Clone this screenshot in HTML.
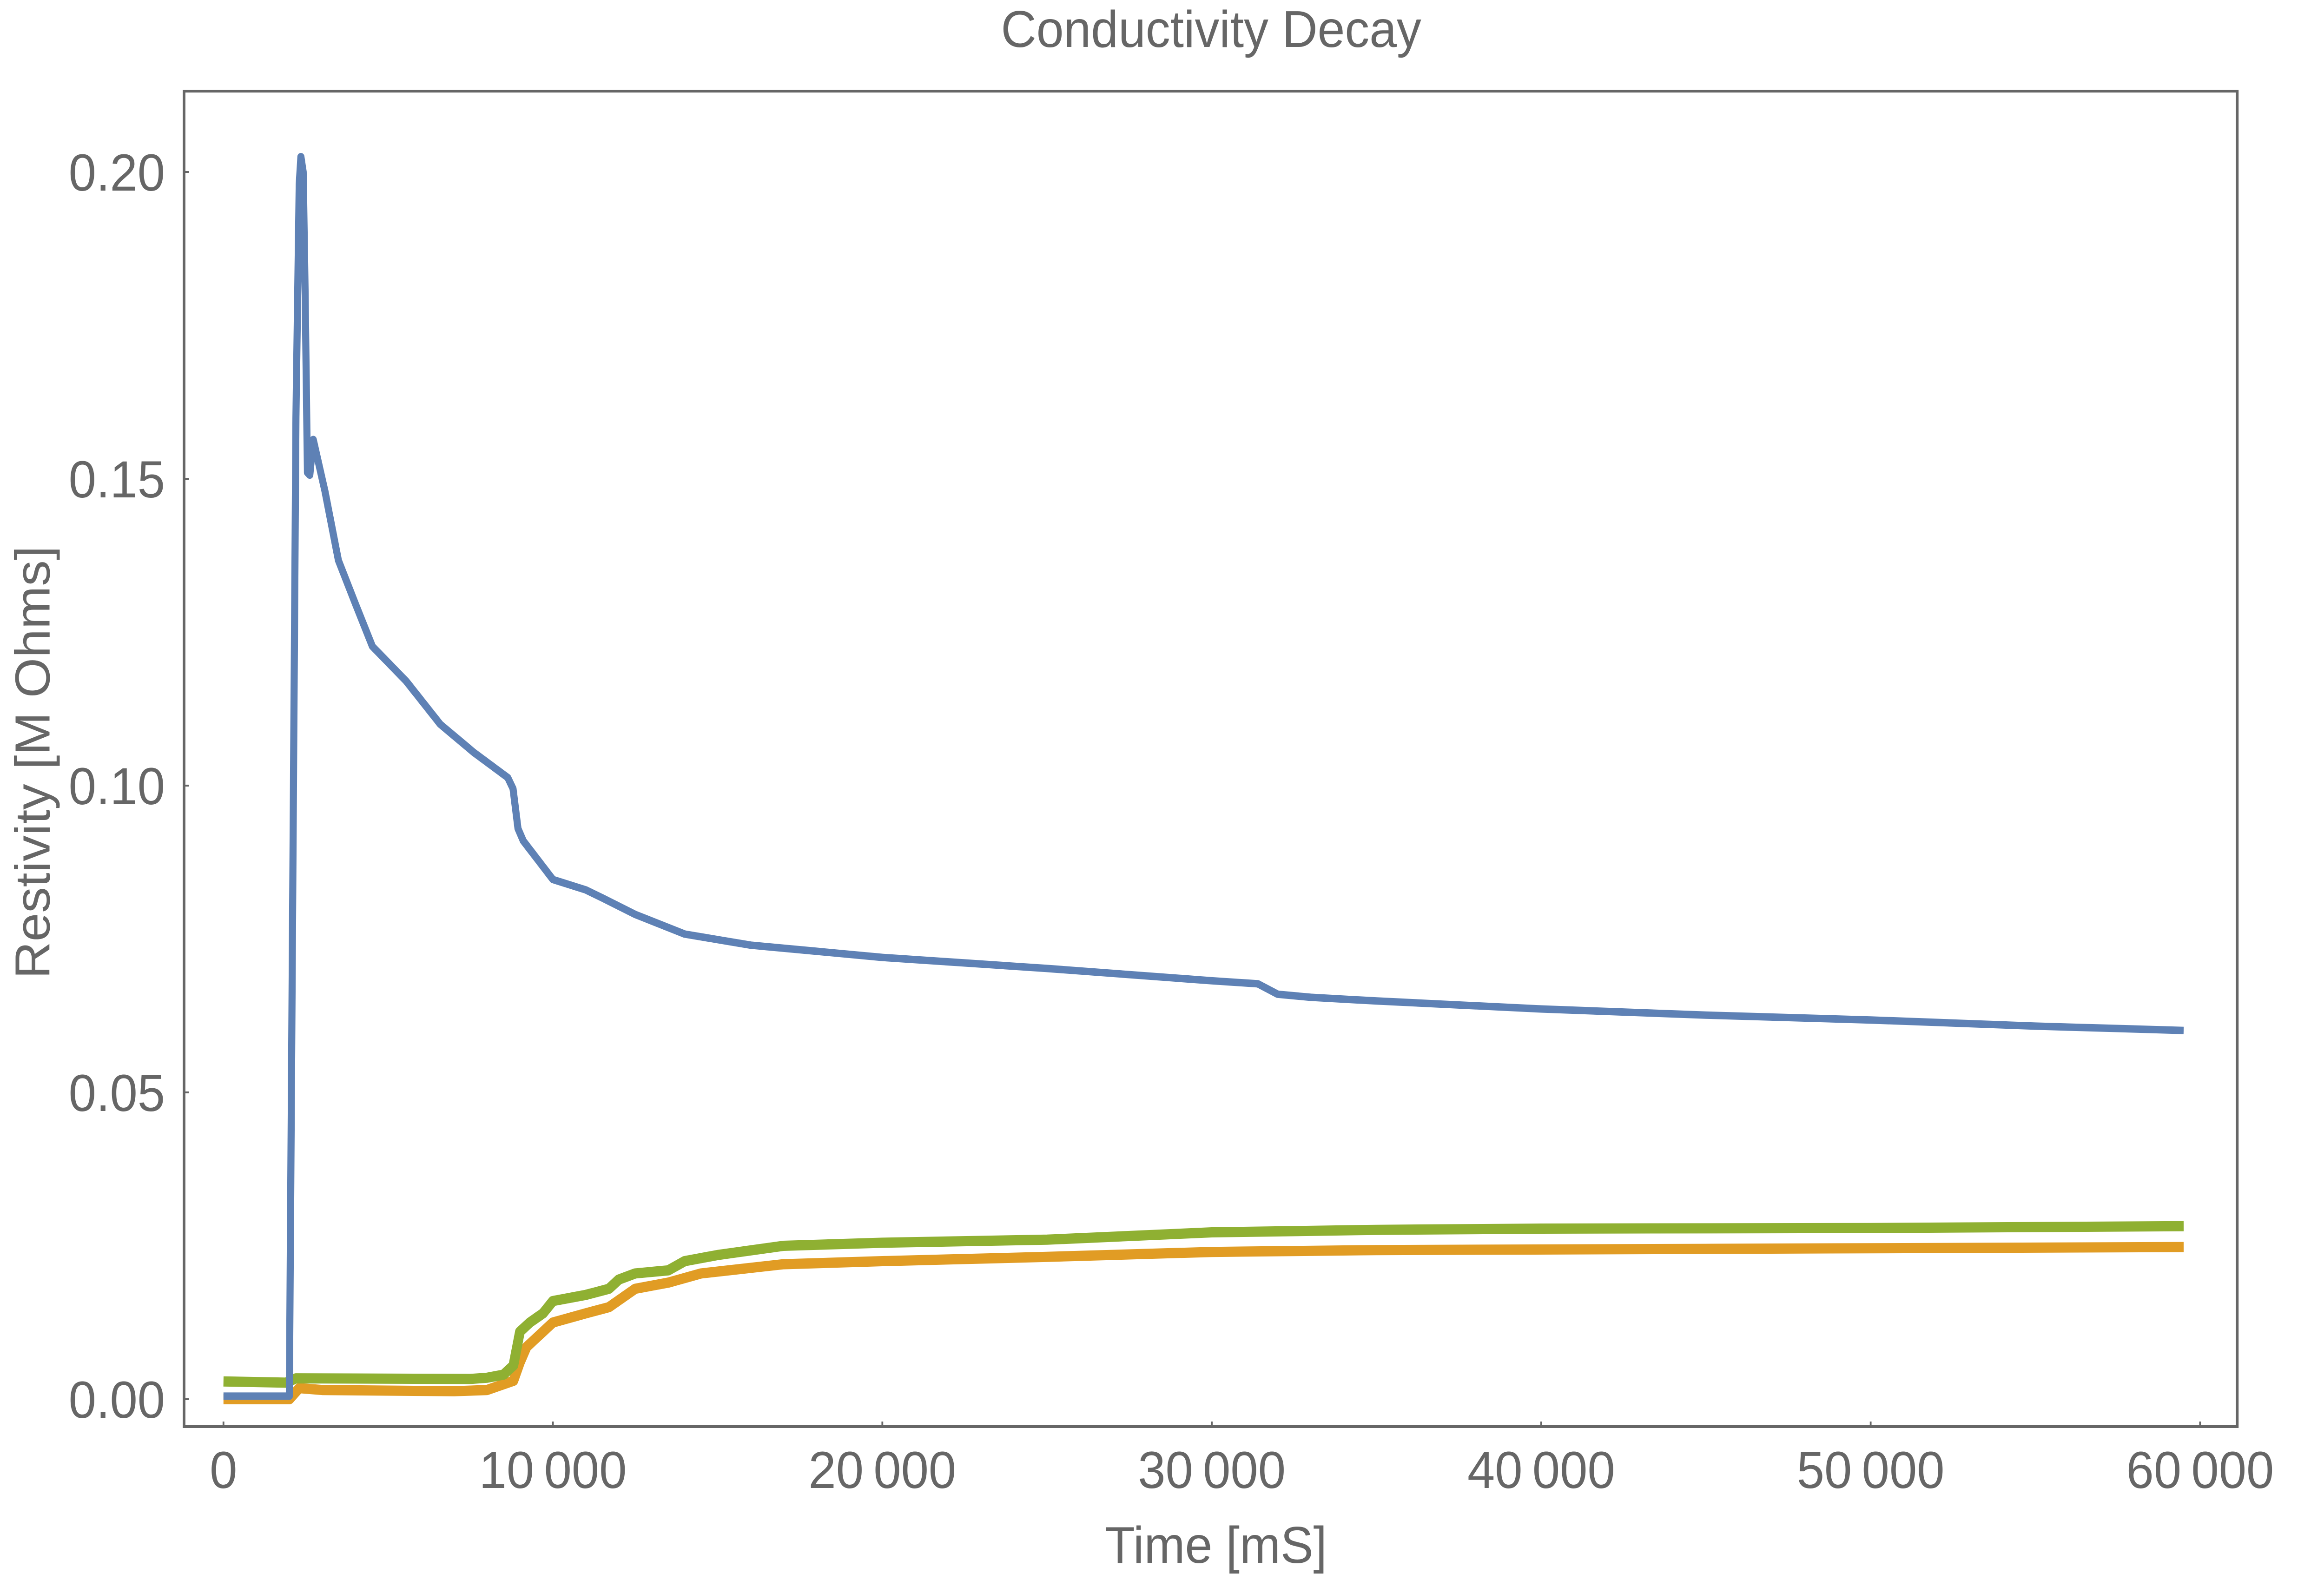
<!DOCTYPE html>
<html><head><meta charset="utf-8"><style>
html,body{margin:0;padding:0;background:#fff;overflow:hidden;width:100%;height:100%;}
svg{display:block;width:100vw;height:100vh;}
text{font-family:"Liberation Sans",Arial,sans-serif;fill:#666;}
</style></head><body>
<svg id="chart" viewBox="0 0 5252 3386" preserveAspectRatio="none" xmlns="http://www.w3.org/2000/svg">
<rect x="0" y="0" width="5252" height="3386" fill="#fff"/>
<text x="2737" y="101" font-size="111" text-anchor="middle">Conductivity Decay</text>
<text x="2748" y="3362" font-size="111" text-anchor="middle">Time [mS]</text>
<text transform="translate(112,1640) rotate(-90)" font-size="111" text-anchor="middle">Restivity [M Ohms]</text>
<g id="ticks"></g>
<g id="series"></g>
<rect x="416" y="196" width="4640" height="2873" fill="none" stroke="#666" stroke-width="6"/>
</svg>
<script>
const xTicks = [0, 10000, 20000, 30000, 40000, 50000, 60000];
const xTickLabels = ["0", "10\u2009000", "20\u2009000", "30\u2009000", "40\u2009000", "50\u2009000", "60\u2009000"];
const yTicks = [0, 0.05, 0.10, 0.15, 0.20];
const yTickLabels = ["0.00", "0.05", "0.10", "0.15", "0.20"];

const blueT = [0, 1900, 2000, 2200, 2300, 2350, 2420, 2480, 2550, 2620, 2725, 3080, 3490, 4000, 4520, 5550, 6580, 7600, 8630, 8790, 8940, 9100, 10000, 11000, 11500, 12500, 14000, 16000, 18000, 20000, 25000, 30000, 31400, 32000, 33000, 35000, 40000, 45000, 50000, 55000, 59500];
const blueV = [0.0005, 0.0005, 0.0005, 0.16, 0.198, 0.2025, 0.2, 0.18, 0.151, 0.1506, 0.1564, 0.148, 0.1367, 0.1297, 0.1227, 0.117, 0.110, 0.1054, 0.1013, 0.0995, 0.093, 0.091, 0.0847, 0.083, 0.0817, 0.079, 0.0758, 0.074, 0.073, 0.072, 0.0702, 0.0682, 0.0677, 0.066, 0.0655, 0.0649, 0.0636, 0.0626, 0.0618, 0.0608, 0.0601];

const greenT = [0, 1900, 2200, 7500, 8000, 8500, 8800, 9000, 9300, 9700, 10000, 10500, 11000, 11700, 12000, 12500, 13500, 14000, 15000, 17000, 20000, 25000, 30000, 35000, 40000, 50000, 59500];
const greenV = [0.0029, 0.0027, 0.0034, 0.0033, 0.0035, 0.004, 0.0055, 0.011, 0.0125, 0.014, 0.016, 0.0165, 0.017, 0.018, 0.0195, 0.0205, 0.021, 0.0225, 0.0235, 0.025, 0.0255, 0.026, 0.0272, 0.0276, 0.0278, 0.0279, 0.0282];

const orangeT = [0, 2000, 2300, 3000, 7000, 8000, 8800, 9000, 9200, 9700, 10000, 11000, 11700, 12500, 13500, 14500, 17000, 20000, 25000, 30000, 35000, 45000, 59500];
const orangeV = [0.0, 0.0, 0.0018, 0.0015, 0.0013, 0.0015, 0.003, 0.006, 0.0085, 0.011, 0.0125, 0.014, 0.015, 0.018, 0.019, 0.0205, 0.022, 0.0225, 0.0232, 0.024, 0.0243, 0.0245, 0.0248];

const NS = "http://www.w3.org/2000/svg";
function xScale(t){ return 505 + (t/60000)*(4972-505); }
function yScale(v){ return 3010 - v*13200; }

const ticks = document.getElementById('ticks');
xTicks.forEach((t,i)=>{
  const tx = document.createElementNS(NS,'text');
  
  
  tx.setAttribute('x', xScale(t)); tx.setAttribute('y', 3201);
  tx.setAttribute('font-size', 112); tx.setAttribute('text-anchor','middle');
  tx.textContent = xTickLabels[i];
  ticks.appendChild(tx);
  const tm = document.createElementNS(NS,'line');
  
  
  tm.setAttribute('x1', xScale(t)); tm.setAttribute('x2', xScale(t));
  tm.setAttribute('y1', 3069); tm.setAttribute('y2', 3058);
  tm.setAttribute('stroke','#666'); tm.setAttribute('stroke-width',4);
  ticks.appendChild(tm);
});
yTicks.forEach((v,i)=>{
  const tx = document.createElementNS(NS,'text');
  
  
  tx.setAttribute('x', 373); tx.setAttribute('y', yScale(v)+40);
  tx.setAttribute('font-size', 112); tx.setAttribute('text-anchor','end');
  tx.textContent = yTickLabels[i];
  ticks.appendChild(tx);
  const tm = document.createElementNS(NS,'line');
  
  
  tm.setAttribute('x1', 416); tm.setAttribute('x2', 427);
  tm.setAttribute('y1', yScale(v)); tm.setAttribute('y2', yScale(v));
  tm.setAttribute('stroke','#666'); tm.setAttribute('stroke-width',4);
  ticks.appendChild(tm);
});

const series = document.getElementById('series');
function drawLine(ts, vs, color, width, name){
  const p = document.createElementNS(NS,'polyline');
  
  
  p.setAttribute('points', ts.map((t,i)=>xScale(t).toFixed(1)+','+yScale(vs[i]).toFixed(1)).join(' '));
  p.setAttribute('fill','none'); p.setAttribute('stroke', color);
  p.setAttribute('stroke-width', width); p.setAttribute('stroke-linejoin','round');
  series.appendChild(p);
}
drawLine(orangeT, orangeV, '#E19C24', 22, 'orange-series');
drawLine(greenT, greenV, '#8FB032', 22, 'green-series');
drawLine(blueT, blueV, '#5E81B5', 16, 'blue-series');
</script>
</body></html>
